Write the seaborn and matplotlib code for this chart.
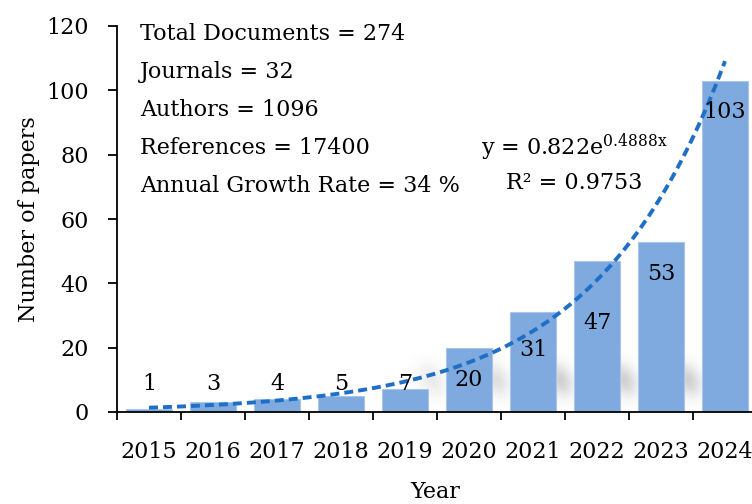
import numpy as np
import pandas as pd
import matplotlib
matplotlib.use("Agg")
import matplotlib.pyplot as plt
from matplotlib.ticker import FixedLocator
import seaborn as sns

# data
years = ['2015', '2016', '2017', '2018', '2019', '2020', '2021', '2022', '2023', '2024']
papers = [1, 3, 4, 5, 7, 20, 31, 47, 53, 103]
# where the value labels sit (in y units) - they were moved by hand in the original
label_y = [8.7, 8.7, 8.7, 8.7, 8.7, 10, 19.3, 27.7, 42.9, 93.3]
summary = ['Total Documents = 274', 'Journals = 32', 'Authors = 1096',
           'References = 17400', 'Annual Growth Rate = 34 %']
# exponential trendline y = a*e^(b*x), x = 1..10
trend_a = 0.822
trend_b = 0.4888
r2 = 0.9753

sns.set_style('ticks')
plt.rcParams['font.family'] = ['DejaVu Serif']
plt.rcParams['mathtext.fontset'] = 'custom'
plt.rcParams['mathtext.rm'] = 'DejaVu Serif'
plt.rcParams['text.color'] = 'black'
plt.rcParams['axes.labelcolor'] = 'black'
plt.rcParams['xtick.color'] = 'black'
plt.rcParams['ytick.color'] = 'black'
fs = 16

df = pd.DataFrame({'Year': years, 'Papers': papers})

fig = plt.figure(figsize=(7.52, 5.04), dpi=100)
ax = fig.add_axes([117 / 752, 92 / 504, 640 / 752, 386 / 504])

# soft grey shadow next to the taller bars (excel shadow effect)
gy, gx = np.mgrid[0:1:80j, 0:1:80j]
for i, v in enumerate(papers):
    if v < 15:
        continue
    d = ((gx - 0.5 - 0.3 * (gy - 0.5)) / 0.28) ** 2 + ((gy - 0.5) / 0.28) ** 2
    img = np.zeros((80, 80, 4))
    img[..., :3] = 0.55
    img[..., 3] = np.exp(-d) * min(v / 45, 1) * 0.4
    ax.imshow(img, extent=[i - 0.95, i - 0.2, 1, 19], aspect='auto',
              origin='upper', zorder=0.5, interpolation='bilinear')

sns.barplot(data=df, x='Year', y='Papers', color='#7EAADF', saturation=1,
            width=0.72, edgecolor='#A9C6EA', linewidth=0.8, ax=ax, zorder=2)

# trendline from the fitted equation
xs = np.linspace(1, 10, 200)
trend = pd.DataFrame({'x': xs - 1, 'y': trend_a * np.exp(trend_b * xs)})
ax.plot(trend['x'], trend['y'], color='#1F6FC6', lw=2.8, dashes=[2.3, 1.3], zorder=3)

# value labels
for i, v in enumerate(papers):
    ax.text(i, label_y[i], str(v), ha='center', va='center', fontsize=fs, zorder=4)

# summary block
for k, s in enumerate(summary):
    fig.text(140 / 752, 1 - (34 + 38 * k) / 504, s, ha='left', va='center', fontsize=fs)

fig.text(574 / 752, 1 - 147 / 504,
         r'y = 0.822e$^{\mathrm{%s}}$' % (f'{trend_b}x'), ha='center', va='center', fontsize=fs)
fig.text(574 / 752, 1 - 183 / 504, f'R² = {r2}', ha='center', va='center', fontsize=fs)

ax.set_xlim(-0.5, 9.5)
ax.set_ylim(0, 120)
ax.set_yticks(range(0, 121, 20))
ax.xaxis.set_minor_locator(FixedLocator(np.arange(-0.5, 10, 1)))
ax.tick_params(axis='x', which='major', length=0, pad=21, labelsize=fs)
ax.tick_params(axis='x', which='minor', length=6, width=1.3, direction='out')
ax.tick_params(axis='y', length=6.5, width=1.3, pad=14, labelsize=fs)

for sp in ['top', 'right']:
    ax.spines[sp].set_visible(False)
for sp in ['left', 'bottom']:
    ax.spines[sp].set_linewidth(1.3)
    ax.spines[sp].set_color('black')

ax.set_xlabel('Year', fontsize=fs)
ax.set_ylabel('Number of papers', fontsize=fs)
ax.xaxis.set_label_coords(0.497, -0.179)
ax.yaxis.set_label_coords(-0.12, 0.5)

fig.savefig('out.png', dpi=100)
